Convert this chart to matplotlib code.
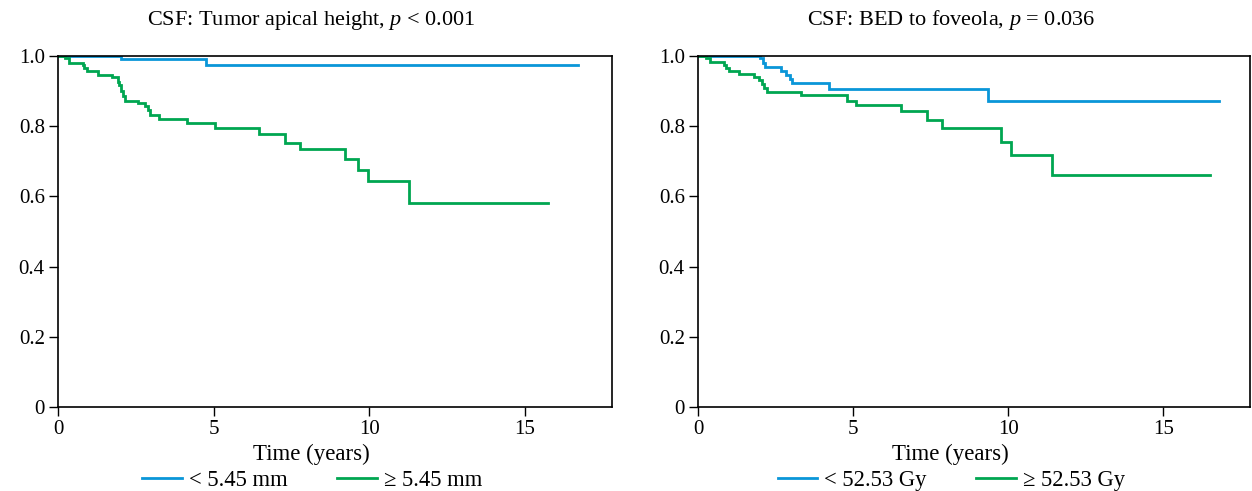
import matplotlib
matplotlib.use("Agg")
import matplotlib.pyplot as plt
from matplotlib.lines import Line2D

plt.rcParams['font.family'] = ['Liberation Serif', 'DejaVu Serif']
plt.rcParams['mathtext.fontset'] = 'custom'
plt.rcParams['mathtext.rm'] = 'Liberation Serif'
plt.rcParams['mathtext.it'] = 'Liberation Serif:italic'

BLUE = '#0a96d8'
GREEN = '#00a651'

# Left panel: Tumor apical height
left_title = "CSF: Tumor apical height, $\\it{p}$ < 0.001"
left_labels = ["< 5.45 mm", "\u2265 5.45 mm"]
left_blue_t = [0, 2.03, 4.75, 16.7]
left_blue_s = [1.0, 0.992, 0.975, 0.975]
left_green_t = [0, 0.22, 0.36, 0.79, 0.85, 0.92, 1.27, 1.73, 1.93, 1.96, 2.04, 2.09,
                2.15, 2.57, 2.78, 2.88, 2.97, 3.24, 4.14, 5.04, 6.46, 7.28, 7.77,
                9.22, 9.63, 9.97, 11.27, 15.75]
left_green_s = [1.0, 0.993, 0.979, 0.974, 0.965, 0.958, 0.947, 0.940, 0.926, 0.916,
                0.901, 0.886, 0.872, 0.867, 0.857, 0.846, 0.833, 0.821, 0.808, 0.795,
                0.777, 0.753, 0.734, 0.707, 0.675, 0.645, 0.580, 0.580]

# Right panel: BED to foveola
right_title = "CSF: BED to foveola, $\\it{p}$ = 0.036"
right_labels = ["< 52.53 Gy", "\u2265 52.53 Gy"]
right_blue_t = [0, 2.0, 2.08, 2.17, 2.67, 2.83, 2.96, 3.04, 4.23, 9.35, 16.8]
right_blue_s = [1.0, 0.993, 0.980, 0.968, 0.957, 0.945, 0.934, 0.924, 0.906, 0.872, 0.872]
right_green_t = [0, 0.25, 0.39, 0.84, 0.91, 1.0, 1.32, 1.8, 1.97, 2.05, 2.13, 2.21,
                 3.33, 4.82, 5.11, 6.56, 7.4, 7.88, 9.76, 10.08, 11.4, 16.5]
right_green_s = [1.0, 0.993, 0.984, 0.974, 0.965, 0.957, 0.948, 0.940, 0.932, 0.921,
                 0.910, 0.897, 0.889, 0.872, 0.860, 0.843, 0.817, 0.795, 0.756, 0.718,
                 0.661, 0.661]

x_ticks = [0, 5, 10, 15]
y_ticks = [0, 0.2, 0.4, 0.6, 0.8, 1.0]
y_ticklabels = ["0", "0.2", "0.4", "0.6", "0.8", "1.0"]

W, H = 1252, 491
fig = plt.figure(figsize=(W / 100, H / 100), dpi=100)

def make_ax(x0, x1, title, bt, bs, gt, gs, labels):
    ax = fig.add_axes([x0 / W, (H - 407) / H, (x1 - x0) / W, (407 - 56) / H])
    ax.step(bt, bs, where='post', color=BLUE, lw=2.0, solid_joinstyle='miter')
    ax.step(gt, gs, where='post', color=GREEN, lw=2.0, solid_joinstyle='miter')
    ax.set_xlim(0, 17.8)
    ax.set_ylim(0, 1.0)
    ax.set_xticks(x_ticks)
    ax.set_yticks(y_ticks)
    ax.set_yticklabels(y_ticklabels)
    ax.tick_params(direction='out', length=6.5, width=1.0, labelsize=15, pad=3, color='black')
    for sp in ax.spines.values():
        sp.set_linewidth(1.2)
    xa = ax.get_xaxis_transform()
    ax.text(8.15, 1 + 31 / 351, title, ha='center', va='baseline', fontsize=16, transform=xa)
    ax.text(8.15, -0.135, "Time (years)", ha='center', va='center', fontsize=16.5,
            transform=xa)
    handles = [Line2D([], [], color=BLUE, lw=2.0), Line2D([], [], color=GREEN, lw=2.0)]
    frac = 8.17 / 17.8
    ax.legend(handles, labels, loc='center', bbox_to_anchor=(frac, -0.21), ncol=2,
              frameon=False, fontsize=16.3, handlelength=1.75, handletextpad=0.3,
              columnspacing=2.2, borderaxespad=0)
    return ax

make_ax(58, 612, left_title, left_blue_t, left_blue_s, left_green_t, left_green_s, left_labels)
make_ax(698, 1250, right_title, right_blue_t, right_blue_s, right_green_t, right_green_s, right_labels)

fig.savefig("out.png", dpi=100)
